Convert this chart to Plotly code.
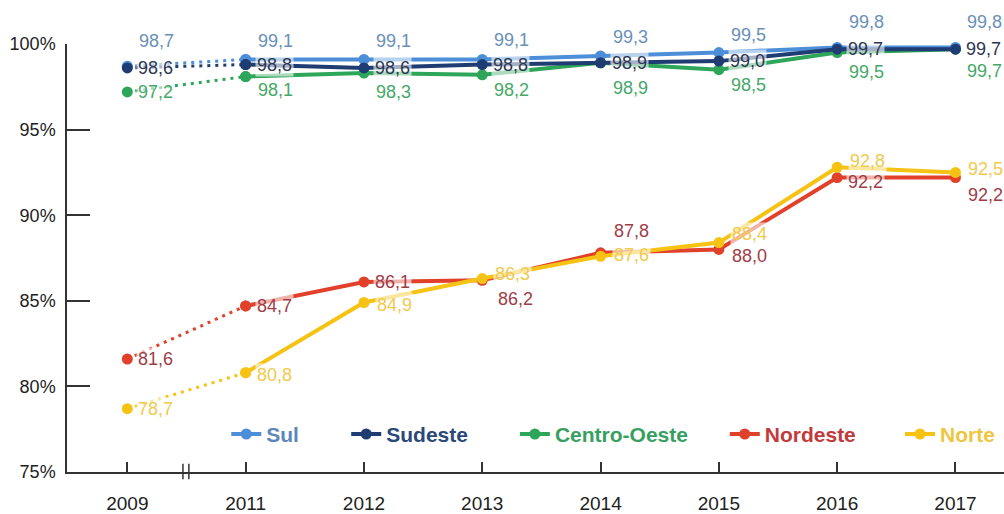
import plotly.graph_objects as go

# Years on the horizontal axis (2010 is not surveyed)
years = ["2009", "2011", "2012", "2013", "2014", "2015", "2016", "2017"]

# Share of households per region (%)
sul = [98.7, 99.1, 99.1, 99.1, 99.3, 99.5, 99.8, 99.8]
sudeste = [98.6, 98.8, 98.6, 98.8, 98.9, 99.0, 99.7, 99.7]
centro_oeste = [97.2, 98.1, 98.3, 98.2, 98.9, 98.5, 99.5, 99.7]
nordeste = [81.6, 84.7, 86.1, 86.2, 87.8, 88.0, 92.2, 92.2]
norte = [78.7, 80.8, 84.9, 86.3, 87.6, 88.4, 92.8, 92.5]

y_ticks = [75, 80, 85, 90, 95, 100]
y_tick_text = ["75%", "80%", "85%", "90%", "95%", "100%"]

# Styling per region: line colour, label colour, legend colour, legend x,
# and per-point label offsets (xshift, yshift) in pixels
regions = [
    dict(name="Centro-Oeste", values=centro_oeste, color="#2ea65a", text="#45a868",
         legend_color="#36a060", legend_x=0.478,
         offsets=[(9, 0), (10, -13), (10, -19), (10, -15), (10, -25), (10, -15), (10, -19), (10, -22)]),
    dict(name="Sul", values=sul, color="#4d8ed8", text="#6a90ba",
         legend_color="#5b88bb", legend_x=0.170,
         offsets=[(10, 25), (10, 18), (10, 18), (10, 19), (10, 19), (10, 18), (10, 25), (10, 25)]),
    dict(name="Sudeste", values=sudeste, color="#1f3d72", text="#2c3651",
         legend_color="#2a4878", legend_x=0.298,
         offsets=[(9, 0)] * 8),
    dict(name="Nordeste", values=nordeste, color="#e1402a", text="#9e3c48",
         legend_color="#c23a3a", legend_x=0.702,
         offsets=[(9, 0), (9, 0), (9, 0), (14, -19), (11, 22), (11, -7), (9, -4), (11, -17)]),
    dict(name="Norte", values=norte, color="#f6c314", text="#efca4c",
         legend_color="#efc640", legend_x=0.889,
         offsets=[(9, 0), (9, -2), (11, -2), (11, 5), (11, 1), (11, 9), (11, 6), (11, 3)]),
]

fig = go.Figure()
annotations = []
legends = {}

for i, r in enumerate(regions):
    legend_id = "legend" if i == 0 else f"legend{i + 1}"
    # 2009 -> 2011 gap shown as a dotted segment
    fig.add_trace(go.Scatter(
        x=years[:2], y=r["values"][:2], mode="lines+markers",
        line=dict(color=r["color"], width=3, dash="3px,5px"),
        marker=dict(color=r["color"], size=11),
        showlegend=False, hoverinfo="skip", cliponaxis=False,
    ))
    fig.add_trace(go.Scatter(
        x=years[1:], y=r["values"][1:], mode="lines+markers", name=r["name"],
        line=dict(color=r["color"], width=4),
        marker=dict(color=r["color"], size=11),
        legend=legend_id, cliponaxis=False,
    ))
    legends[legend_id] = dict(
        x=r["legend_x"], y=0.088, xanchor="left", yanchor="middle",
        orientation="h", bgcolor="rgba(0,0,0,0)",
        font=dict(family="Liberation Sans Narrow, Arial Narrow, sans-serif",
                  size=21, color=r["legend_color"], weight="bold"),
    )
    # value labels: category axis positions are the category indices
    for k, (v, (dx, dy)) in enumerate(zip(r["values"], r["offsets"])):
        annotations.append(dict(
            x=k, y=v, xref="x", yref="y",
            text=f"{v:.1f}".replace(".", ","), showarrow=False,
            xanchor="left", yanchor="middle", xshift=dx, yshift=dy,
            font=dict(family="Liberation Sans, Arial, sans-serif", size=18, color=r["text"]),
            bgcolor="rgba(255,255,255,0.6)", borderpad=1,
        ))

# Axis-break mark between 2009 and 2011
shapes = [
    dict(type="line", xref="x", yref="paper", x0=0.47, x1=0.47, y0=-0.017, y1=0.019,
         line=dict(color="#333333", width=1.5)),
    dict(type="line", xref="x", yref="paper", x0=0.52, x1=0.52, y0=-0.017, y1=0.019,
         line=dict(color="#333333", width=1.5)),
]

fig.update_layout(
    width=1004, height=514,
    margin=dict(l=67, r=0, t=44, b=38),
    paper_bgcolor="white", plot_bgcolor="white",
    annotations=annotations, shapes=shapes,
    font=dict(family="Liberation Sans, Arial, sans-serif", size=18, color="#222222"),
    **legends,
)

fig.update_xaxes(
    type="category", categoryorder="array", categoryarray=years,
    range=[-0.51, 7.41], showgrid=False, zeroline=False,
    showline=True, linecolor="#333333", linewidth=1.5,
    ticks="inside", ticklen=10, tickcolor="#333333", tickwidth=1.5,
    tickfont=dict(size=19, color="#222222"), ticklabelstandoff=13,
)
fig.update_yaxes(
    range=[75, 100], tickvals=y_ticks, ticktext=y_tick_text,
    showgrid=False, zeroline=False,
    showline=True, linecolor="#333333", linewidth=1.5,
    ticks="inside", ticklen=23, tickcolor="#333333", tickwidth=1.5,
    tickfont=dict(size=18, color="#222222"), ticklabelstandoff=6,
)

fig.write_html("out.html")
